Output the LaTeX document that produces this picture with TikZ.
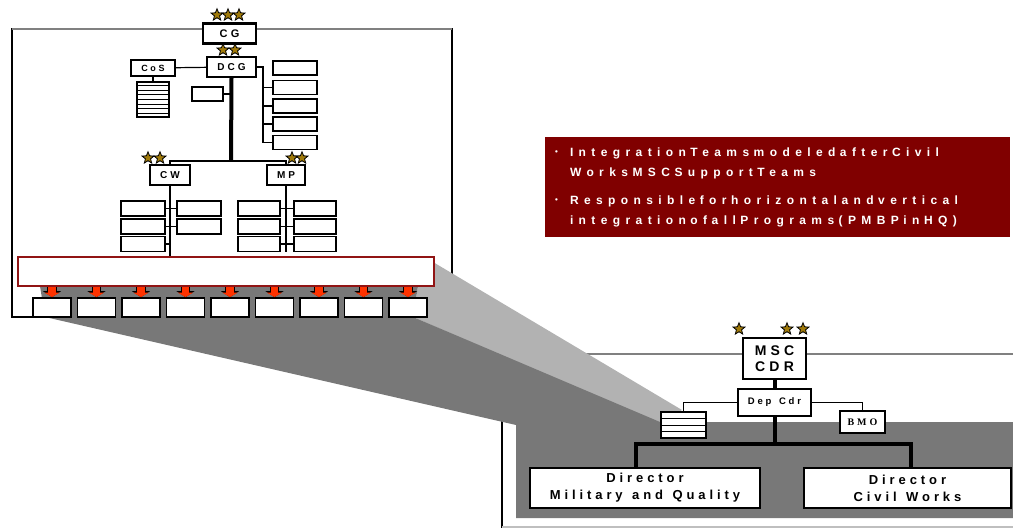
\documentclass[tikz,border=0pt]{standalone}
\usepackage{fontspec}
\setmainfont{Liberation Sans}
\newfontfamily\wide[LetterSpace=30]{Liberation Sans}
\newfontfamily\widemsg[LetterSpace=45]{Liberation Sans}
\newfontfamily\widerm[LetterSpace=30]{Liberation Serif}
\usetikzlibrary{positioning,arrows.meta,shapes.geometric,calc}

\definecolor{maroonbox}{RGB}{128,0,0}
\definecolor{barred}{RGB}{145,20,20}
\definecolor{arrowred}{RGB}{255,51,0}
\definecolor{stargold}{RGB}{160,122,10}
\definecolor{beamlight}{RGB}{178,178,178}
\definecolor{beamdark}{RGB}{120,120,120}

% spaced bold text: size, leading
\newcommand\wfont[2]{\wide\bfseries\fontsize{#1}{#2}\selectfont}
\newcommand\mfont{\widemsg\bfseries\fontsize{12}{20}\selectfont}
\newcommand\bulletmark{\makebox[15pt][l]{\raisebox{1.5pt}{\fontsize{8}{8}\selectfont\textbullet}}}
\newcommand\gapw{\hspace{4.5pt}}

\begin{document}
\begin{tikzpicture}[x=1pt, y=-1pt,
    border/.style={draw=black, line width=1.5pt},
    bordertop/.style={draw=black!50, line width=1.5pt},
    cmdbox/.style={rectangle, draw=black, fill=white, line width=2.2pt, inner sep=0pt},
    office/.style={rectangle, draw=black, fill=white, line width=1.3pt, inner sep=0pt},
    slot/.style={rectangle, draw=black, fill=white, line width=1.3pt,
                 inner sep=0pt, minimum width=44, minimum height=15},
    team/.style={slot, line width=1.8pt, minimum width=38, minimum height=19},
    rank/.style={star, star points=5, star point ratio=2.3, minimum size=12.5,
                 inner sep=0pt, fill=stargold, draw=black, line width=0.8pt},
    wire/.style={draw=black, line width=1.2pt},
    trunk/.style={draw=black, line width=4pt},
    bus/.style={draw=black, line width=2.8pt},
    feedout/.style={line width=9.5pt, draw=black, -{Triangle[length=6pt,width=18pt]}},
    feedin/.style={line width=7.5pt, draw=arrowred, -{Triangle[length=4.5pt,width=15pt]}},
    msg/.style={rectangle, fill=maroonbox, text=white, minimum width=465,
                minimum height=100, text width=445, align=left, inner sep=0pt,
                font=\mfont}
]
\useasboundingbox (0,0) rectangle (1013,528);
\clip (0,0) rectangle (1013,528);

% Frames
\draw[border] (12,29) rectangle (452,317);
\draw[bordertop] (12,29) -- (452,29);
\draw[border] (502,354) rectangle (1030,527);
\draw[bordertop] (502,354) -- (1030,354);
\draw[draw=black!25, line width=1.5pt] (502,527) -- (1030,527);

% Zoom beam
\fill[beamlight] (433,262) -- (682,410) -- (660,424) -- (413,317) -- (418,286) -- cycle;
\fill[beamdark] (40,286) -- (418,286) -- (413,317) -- (660,422) -- (1030,422)
    -- (1030,518) -- (516,518) -- (516,425) -- (45,317) -- cycle;

% HQ command group
\node[cmdbox, minimum width=53, minimum height=20, font=\wfont{11}{11}]
    (cg) at (229.5,33.5) {CG};
\node[rank] (cg1) at (217,15) {};
\node[rank] (cg2) at (228,15) {};
\node[rank] (cg3) at (239,15) {};
\node[rank] (dcg1) at (223,50) {};
\node[rank] (dcg2) at (235,50) {};
\node[cmdbox, minimum width=49, minimum height=20, font=\wfont{10}{10}]
    (dcg) at (231.5,67) {DCG};
\node[office, minimum width=44, minimum height=16, font=\wfont{9}{9}]
    (cos) at (153,68) {CoS};
\node[slot, minimum width=32, minimum height=35] (cosl) at (153,99.5) {};
\foreach \k in {1,...,7}
    \draw[wire, line width=1pt] ($(cosl.north west)!\k/8!(cosl.south west)$)
        -- ($(cosl.north east)!\k/8!(cosl.south east)$);
\node[slot, minimum width=31, minimum height=14] (aide) at (207.5,94) {};

% DCG staff
\node[slot, minimum height=14] (s1) at (295,68) {};
\node[slot, minimum height=14] (s2) at (295,87.5) {};
\node[slot, minimum height=14] (s3) at (295,106) {};
\node[slot, minimum height=14] (s4) at (295,124) {};
\node[slot, minimum height=14] (s5) at (295,142.5) {};
\coordinate (staff) at (263,0);

\draw[wire] (cos) -- (dcg);
\draw[wire] (cos) -- (cosl);
\draw[wire] (dcg.east) -- (dcg.east -| staff) -- (s5.west -| staff) -- (s5.west);
\foreach \k in {2,3,4}
    \draw[wire] (s\k.west -| staff) -- (s\k.west);

% CW and MP
\coordinate (hub) at (231,161);
\node[cmdbox, minimum width=40, minimum height=20, font=\wfont{10}{10}]
    (cw) at (170,175) {CW};
\node[cmdbox, minimum width=38, minimum height=20, font=\wfont{10}{10}]
    (mp) at (286,175) {MP};
\node[rank] (cw1) at (148,158) {};
\node[rank] (cw2) at (160,158) {};
\node[rank] (mp1) at (292,158) {};
\node[rank] (mp2) at (302,158) {};

\draw[trunk] (dcg.south) -- (hub);
\draw[wire] (aide.east) -- (aide.east -| hub);
\draw[bus] (cw.north) |- (hub) -| (mp.north);

\node[slot] (cwl1) at (143,208.5) {};
\node[slot] (cwl2) at (143,226.5) {};
\node[slot] (cwl3) at (143,244) {};
\node[slot] (cwr1) at (199,208.5) {};
\node[slot] (cwr2) at (199,226.5) {};
\node[slot, minimum width=42] (mpl1) at (259,208.5) {};
\node[slot, minimum width=42] (mpl2) at (259,226.5) {};
\node[slot, minimum width=42] (mpl3) at (259,244) {};
\node[slot, minimum width=42] (mpr1) at (315,208.5) {};
\node[slot, minimum width=42] (mpr2) at (315,226.5) {};
\node[slot, minimum width=42] (mpr3) at (315,244) {};

% Integration teams
\node[rectangle, draw=barred, fill=white, line width=1.2pt, minimum width=416,
      minimum height=29, inner sep=0pt] (bar) at (226,271.5) {};
\foreach \i in {1,...,9}
    \node[team] (t\i) at ({52+44.5*(\i-1)},307.5) {};

\draw[wire] (cw.south) -- (cw.south |- bar.north);
\draw[wire] (cwl1.east) -- (cwr1.west);
\draw[wire] (cwl2.east) -- (cwr2.west);
\draw[wire] (cwl3.east) -- (cwl3.east -| cw.south);
\draw[wire] (mp.south) -- (mp.south |- mpl3.south);
\foreach \k in {1,2,3}
    \draw[wire] (mpl\k.east) -- (mpr\k.west);

\foreach \i in {1,...,9} {
    \draw[feedout] (bar.south -| t\i.north) -- (t\i.north);
    \draw[feedin] ($(bar.south -| t\i.north)+(0,0.6)$) -- (t\i.north);
}

% MSC level
\node[cmdbox, minimum width=63, minimum height=41, align=center,
      font=\wfont{14}{16}] (msc) at (774.5,358.5) {MSC\\CDR};
\node[rank] (msc1) at (739,329) {};
\node[rank] (msc2) at (787,329) {};
\node[rank] (msc3) at (803,329) {};
\node[office, line width=1.5pt, minimum width=73, minimum height=27,
      font=\wfont{9.5}{9.5}] (dep) at (774.5,402.5) {Dep\hspace{2pt} Cdr};
\node[slot, minimum width=45, minimum height=26] (lst) at (683.5,425) {};
\foreach \k in {1,2,3}
    \draw[wire, line width=1pt] ($(lst.north west)!\k/4!(lst.south west)+(2,0)$)
        -- ($(lst.north east)!\k/4!(lst.south east)+(-2,0)$);
\node[office, minimum width=45, minimum height=22,
      font=\widerm\bfseries\fontsize{10}{10}\selectfont] (bmo) at (862.5,422) {BMO};

\draw[trunk] (msc.south) -- (dep.north);
\draw[wire] (dep.west) -| (lst.north);
\draw[wire] (dep.east) -| (bmo.north);

\node[office, line width=1.8pt, minimum width=230, minimum height=40, align=center,
      font=\wfont{13}{17}] (dmq) at (645,488)
      {Director\\Military\hspace{2pt} and\hspace{2pt} Quality};
\node[office, line width=1.8pt, minimum width=207, minimum height=40, align=center,
      font=\wfont{13}{17}] (dcw) at (907.5,488)
      {Director\\Civil\hspace{2pt} Works};

\coordinate (jl) at (636,444);
\coordinate (jr) at (911,444);
\draw[trunk] (dep.south) -- (dep.south |- jl);
\draw[bus, line width=3.5pt] (jl |- dmq.north) -- (jl) -- (jr) -- (jr |- dcw.north);

% Message
\node[msg] (note) at (777.5,187) {%
    \bulletmark Integration\gapw Teams\gapw modeled\gapw after\gapw Civil\\
    \hspace*{15pt}Works\gapw MSC\gapw Support\gapw Teams\\[8pt]
    \bulletmark Responsible\gapw for\gapw horizontal\gapw and\gapw vertical\\
    \hspace*{15pt}integration\gapw of\gapw all\gapw Programs\gapw (PMBP\gapw in\gapw HQ)};

\end{tikzpicture}
\end{document}
